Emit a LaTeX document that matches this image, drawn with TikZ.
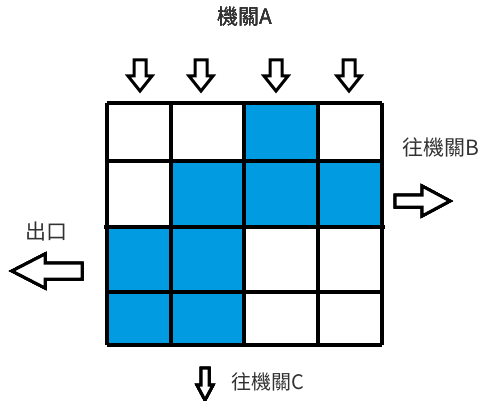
\documentclass[tikz,border=0pt]{standalone}
\usepackage{fontspec}
\newfontfamily\cjk{Noto Sans CJK TC}
\definecolor{cellblue}{RGB}{0,155,225}
\definecolor{labelgray}{RGB}{50,50,50}
\tikzset{
  gridline/.style={line width=4pt,black},
  arrowline/.style={line width=3pt,black,fill=white,line join=miter},
  label/.style={font=\cjk\fontsize{21}{21}\selectfont,text=labelgray,inner sep=0pt}
}
% hollow block arrow: angle, tail point, length, shaft half width, head half width, head length
\newcommand{\hollowarrow}[6]{\draw[arrowline,shift={(#2)},rotate=#1] (0,#4) -- ({#3-#6},#4) -- ({#3-#6},#5) -- (#3,0) -- ({#3-#6},-#5) -- ({#3-#6},-#4) -- (0,-#4) -- cycle;}

\begin{document}
\begin{tikzpicture}[x=1pt,y=-1pt]
\useasboundingbox (0,0) rectangle (500,401);
% blue cells
\fill[cellblue] (244,103) rectangle (318,161) (171,161) rectangle (382,227) (107,227) rectangle (244,345);
% grid
\foreach \gx in {107,171,244,318,382} \draw[gridline] (\gx,103) -- (\gx,345);
\foreach \gy in {103,161,292,345} \draw[gridline] (107,\gy) -- (382,\gy);
\draw[gridline] (104,227) -- (385,227);
% arrows into the grid
\foreach \ax in {140,201,276,349} \hollowarrow{-90}{\ax,60}{31}{6}{12}{15}
\hollowarrow{0}{395,201}{55}{6}{15}{28}
\hollowarrow{180}{82,271}{70}{8}{17}{33}
\hollowarrow{-90}{205,368}{32}{4}{8}{15}
% labels
\node[label] (agencyA) at (245,17) {機關A};
\node[label] (toB) at (441,147) {往機關B};
\node[label] (exit) at (46,232) {出口};
\node[label,font=\cjk\fontsize{20}{20}\selectfont] (toC) at (268,382) {往機關C};
\end{tikzpicture}
\end{document}
